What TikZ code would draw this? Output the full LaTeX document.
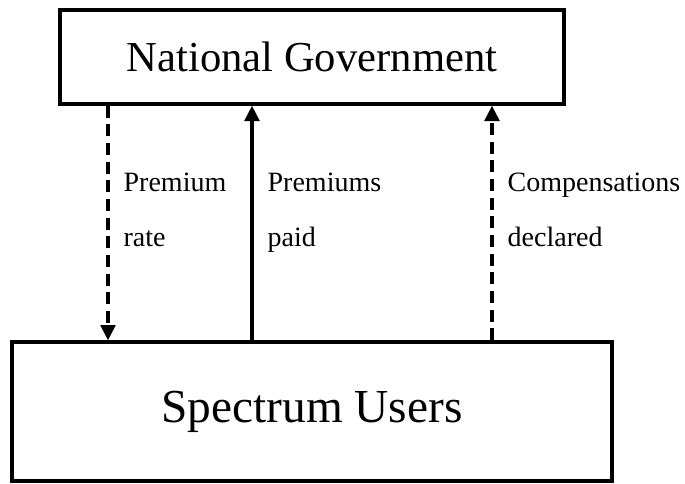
\documentclass[tikz,border=0pt]{standalone}
\usepackage{fontspec}
\setmainfont{Liberation Serif}
\usetikzlibrary{arrows.meta,positioning}

\begin{document}
\begin{tikzpicture}[>={Triangle[length=11.5pt,width=11pt]},line width=2.5pt,node distance=265.9pt,on grid,box/.style    ={draw,line width=2.5pt,inner sep=0pt}]
  \useasboundingbox (-234pt,42.75pt) rectangle (279.75pt,-319.5pt);
  \node[box,minimum width=378pt,minimum height=70.5pt,font=\fontsize{32}{38}\selectfont]          (gov)                        {National Government};
  \node[box,minimum width=450pt,minimum height=104.25pt,font=\fontsize{35.5}{42}\selectfont]      (users) [below =of gov]      {Spectrum Users};
\tikzset{mystyle/.style={->,line width=2.5pt,dash pattern=on 9pt off 5pt}} 
\tikzset{every node/.style={right,align=left,inner sep=0pt,xshift=10.5pt,yshift=11pt,font=\fontsize{21}{41}\selectfont}} 
\path
      ([xshift=-153pt]gov.south)     edge [mystyle]    node   {Premium\strut\\rate\strut} ([xshift=-153pt]users.north)
      ([xshift=135pt]users.north)    edge [mystyle]    node   {Compensations\strut\\declared\strut} ([xshift=135pt]gov.south);
\tikzset{mystyle/.style={->,line width=2.5pt}}   
\path
      ([xshift=-45pt]users.north)    edge [mystyle]    node   {Premiums\strut\\paid\strut} ([xshift=-45pt]gov.south);
\end{tikzpicture}
\end{document}
